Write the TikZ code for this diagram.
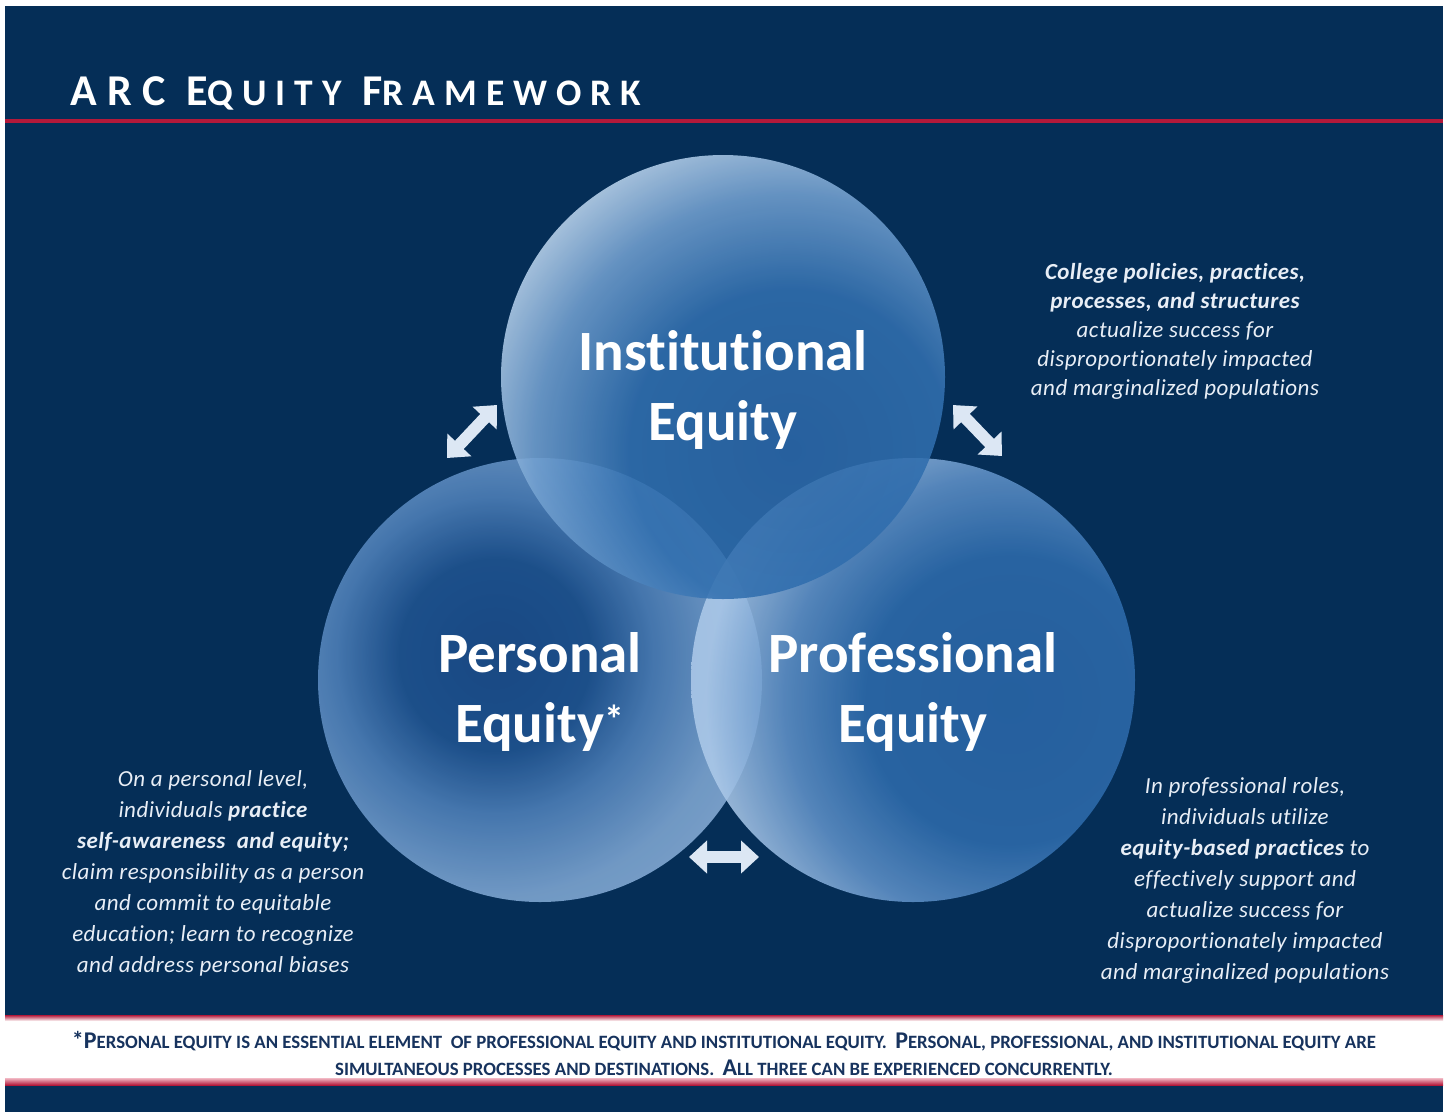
\documentclass[tikz,border=0pt]{standalone}
\usepackage{fontspec}
\setmainfont{Carlito}[Ligatures={NoCommon,NoRare,NoContextual}]
\newfontfamily\titlefont{Carlito}[LetterSpace=24, Ligatures={NoCommon,NoRare,NoContextual}]
\newfontfamily\notefont{Carlito}[LetterSpace=2, Ligatures={NoCommon,NoRare,NoContextual}]
\usepackage{tikz}
\usetikzlibrary{arrows.meta,positioning}
\definecolor{navy}{HTML}{052E57}
\definecolor{arcred}{HTML}{B3193A}
\definecolor{pinkish}{HTML}{F2B8C4}
\definecolor{pale}{HTML}{DCE7F4}
\definecolor{notewhite}{HTML}{E8EEF6}
\definecolor{footnavy}{HTML}{17335E}
% shading colours
\definecolor{instA}{HTML}{2C68A8}
\definecolor{instB}{HTML}{316FAF}
\definecolor{instC}{HTML}{72A0D0}
\definecolor{instD}{HTML}{B9D3ED}
\definecolor{persA}{HTML}{1C4D8A}
\definecolor{persB}{HTML}{205491}
\definecolor{persC}{HTML}{4F81BA}
\definecolor{persD}{HTML}{7FA7D3}
\definecolor{persE}{HTML}{A3C2E4}
\definecolor{profA}{HTML}{2A67A8}
\definecolor{profB}{HTML}{2D6BAC}
\definecolor{profC}{HTML}{5E90C7}
\definecolor{profD}{HTML}{ACC9E9}
% 25bp = radius of the shaded disc (400pt)
\pgfdeclareradialshading{instshade}{\pgfpoint{0bp}{0bp}}{color(0bp)=(instA); color(10bp)=(instB); color(16bp)=(instC); color(20bp)=(instD); color(25bp)=(instD); color(50bp)=(instD)}
\pgfdeclareradialshading{persshade}{\pgfpoint{0bp}{0bp}}{color(0bp)=(persA); color(6bp)=(persB); color(10bp)=(persC); color(15bp)=(persD); color(25bp)=(persE); color(50bp)=(persE)}
\pgfdeclareradialshading{profshade}{\pgfpoint{0bp}{0bp}}{color(0bp)=(profA); color(9bp)=(profB); color(14bp)=(profC); color(19bp)=(profD); color(25bp)=(profD); color(50bp)=(profD)}
\newcommand\bigc{\fontsize{24}{27}\selectfont}
\newcommand\smc{\fontsize{18.8}{27}\selectfont}

\begin{document}
\begin{tikzpicture}
  [
    x=1pt, y=-1pt,
    Bubble/.style={circle, minimum size=444pt, inner sep=0pt},
    Label/.style={text=white, font=\bfseries\fontsize{57}{70}\selectfont, align=center},
    Note/.style={text=notewhite, font=\notefont\itshape\fontsize{23}{29}\selectfont, align=center},
    LongNote/.style={Note, font=\notefont\itshape\fontsize{23}{31}\selectfont},
    Twoway/.style={draw=pale, line width=12pt, {Triangle[length=18pt,width=32pt]}-{Triangle[length=18pt,width=32pt]}},
    Foot/.style={text=footnavy, font=\bfseries\fontsize{18.8}{27}\selectfont, align=center}
  ]
  \useasboundingbox (0,0) rectangle (1447,1112);
  % Background
  \fill[white] (0,0) rectangle (1447,1112);
  \fill[navy] (5,6) rectangle (1443,1112);
  \fill[arcred] (5,119) rectangle (1443,122.5);
  \fill[white] (5,1017) rectangle (1443,1082);
  \shade[top color=arcred, bottom color=white] (5,1015) rectangle (1443,1021);
  \shade[top color=pinkish, bottom color=arcred] (5,1078) rectangle (1443,1085);

  % Title
  \node[anchor=base west, text=white, inner sep=0pt] (title) at (70,105)
    {\titlefont\bfseries\fontsize{44}{50}\selectfont ARC E{\fontsize{37.5}{40}\selectfont QUITY} F{\fontsize{37.5}{40}\selectfont RAMEWORK}};

  % Circles
  \node[Bubble] (pers) at (540,680) {};
  \node[Bubble] (prof) at (913,680) {};
  \node[Bubble] (inst) at (723,377) {};
  \begin{scope}[fill opacity=0.88]
    \clip (pers.center) circle (222);
    \shade[shading=persshade] (495,655) circle (400);
  \end{scope}
  \begin{scope}[fill opacity=0.88]
    \clip (prof.center) circle (222);
    \shade[shading=profshade] (1010,700) circle (400);
  \end{scope}
  \begin{scope}[fill opacity=0.88]
    \clip (inst.center) circle (222);
    \shade[shading=instshade] (790,450) circle (400);
  \end{scope}

  % Labels
  \node[Label] (instlabel) at (723,390) {Institutional\\Equity};
  \node[Label] (perslabel) at (540,692) {Personal\\Equity\textsuperscript{*}};
  \node[Label] (proflabel) at (913,692) {Professional\\Equity};

  % Arrows
  \coordinate (tlA) at (447,458);
  \coordinate (tlB) at (497,405);
  \coordinate (trA) at (953,405);
  \coordinate (trB) at (1002,456);
  \coordinate (btA) at (689,857);
  \coordinate (btB) at (759,857);
  \draw[Twoway] (tlA) -- (tlB);
  \draw[Twoway] (trA) -- (trB);
  \draw[Twoway] (btA) -- (btB);

  % Notes
  \node[Note] (instnote) at (1175,331) {\textbf{College policies, practices,}\\\textbf{processes, and structures}\\actualize success for\\disproportionately impacted\\and marginalized populations};
  \node[LongNote] (persnote) at (213,873) {On a personal level,\\individuals \textbf{practice}\\\textbf{self-awareness\ \ and equity;}\\claim responsibility as a person\\and commit to equitable\\education; learn to recognize\\and address personal biases};
  \node[LongNote] (profnote) at (1245,880) {In professional roles,\\individuals utilize\\\textbf{equity-based practices} to\\effectively support and\\actualize success for\\disproportionately impacted\\and marginalized populations};

  % Footer
  \node[Foot] (footer) at (724,1053)
    {{\bigc *P}{\smc ERSONAL EQUITY IS AN ESSENTIAL ELEMENT\ \ OF PROFESSIONAL EQUITY AND INSTITUTIONAL EQUITY.\ \ }{\bigc P}{\smc ERSONAL, PROFESSIONAL, AND INSTITUTIONAL EQUITY ARE}\\
     {\smc SIMULTANEOUS PROCESSES AND DESTINATIONS.\ \ }{\bigc A}{\smc LL THREE CAN BE EXPERIENCED CONCURRENTLY.}};
\end{tikzpicture}
\end{document}
